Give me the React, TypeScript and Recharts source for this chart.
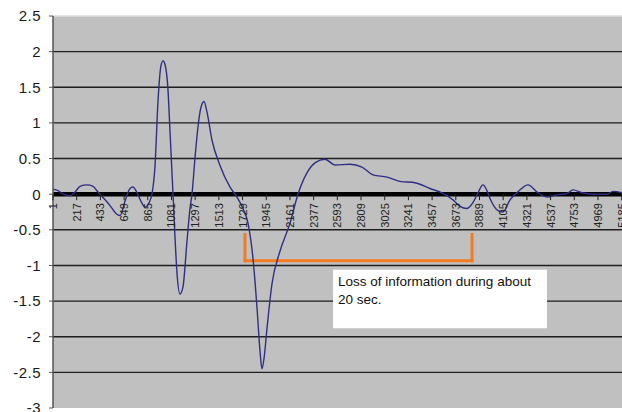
import { LineChart, Line, XAxis, YAxis, CartesianGrid, ReferenceLine, ReferenceDot, ReferenceArea } from 'recharts'

// sample index (x) and signal value (y)
const sampleIndex = [
  1, 47, 92, 156, 202, 247, 311, 366, 411, 466, 521, 575, 612, 657, 703, 730, 767, 803, 840, 876,
  903, 931, 958, 985, 1004, 1022, 1049, 1067, 1095, 1113, 1131, 1159, 1186, 1223, 1250, 1268, 1295,
  1323, 1350, 1378, 1405, 1450, 1524, 1615, 1678, 1733, 1779, 1824, 1861, 1888, 1906, 1925, 1952,
  1997, 2070, 2161, 2234, 2316, 2389, 2480, 2572, 2708, 2818, 2918, 3046, 3164, 3301, 3438, 3556,
  3647, 3711, 3775, 3829, 3875, 3921, 3957, 3985, 4058, 4103, 4167, 4258, 4331, 4413, 4504, 4595,
  4687, 4741, 4823, 4923, 5051, 5106, 5188,
]
const signal = [
  0.07, 0.05, 0.0, -0.02, 0.03, 0.11, 0.13, 0.11, 0.03, -0.06, -0.16, -0.27, -0.3, -0.1, 0.08, 0.1,
  0.02, -0.1, -0.18, -0.12, 0.0, 0.4, 1.3, 1.8, 1.87, 1.82, 1.47, 0.9, 0.0, -0.6, -1.1, -1.4, -1.3,
  -0.65, -0.2, 0.0, 0.5, 0.95, 1.22, 1.3, 1.15, 0.76, 0.4, 0.1, -0.04, -0.2, -0.41, -0.9, -1.6, -2.2,
  -2.45, -2.3, -1.88, -1.26, -0.8, -0.41, 0.0, 0.3, 0.44, 0.49, 0.41, 0.42, 0.38, 0.27, 0.24, 0.18,
  0.16, 0.08, 0.01, -0.08, -0.17, -0.2, -0.12, 0.02, 0.13, 0.05, -0.06, -0.23, -0.25, -0.08, 0.06,
  0.13, 0.03, -0.04, -0.01, 0.01, 0.06, 0.02, 0.0, 0.0, 0.04, 0.02,
]

const xTicks = [
  1, 217, 433, 649, 865, 1081, 1297, 1513, 1729, 1945, 2161, 2377, 2593, 2809, 3025, 3241, 3457,
  3673, 3889, 4105, 4321, 4537, 4753, 4969, 5185,
]
const yTicks = [-3, -2.5, -2, -1.5, -1, -0.5, 0, 0.5, 1, 1.5, 2, 2.5]
const gridValues = [-2.5, -2, -1.5, -1, -0.5, 0.5, 1, 1.5, 2]

// annotation: bracket ends (x), bracket top/bottom (y), note box
const bracketX = [1751, 3821]
const bracketY = [-0.566, -0.934]
const noteX = [2554, 4504]
const noteY = [-1.06, -1.88]
const noteLines = ['Loss of information during about', '20 sec.']

const data = sampleIndex.map((x, i) => ({ x, y: signal[i] }))

const orange = '#f47b20'

function XTickMark(props: any) {
  const { cx, cy, value } = props
  return (
    <g>
      <line x1={cx} x2={cx} y1={cy} y2={cy + 6} stroke="#222" strokeWidth={1} />
      <text
        x={cx}
        y={cy + 9}
        transform={`rotate(-90, ${cx}, ${cy + 9})`}
        textAnchor="end"
        dominantBaseline="central"
        fontSize={11}
        fill="#222"
      >
        {value}
      </text>
    </g>
  )
}

function NoteLabel(props: any) {
  const { viewBox } = props
  if (!viewBox) return null
  return (
    <text x={viewBox.x + 5} y={viewBox.y + 16} fontSize={13.5} fill="#111">
      {noteLines.map((t, i) => (
        <tspan key={i} x={viewBox.x + 5} dy={i === 0 ? 0 : 18}>
          {t}
        </tspan>
      ))}
    </text>
  )
}

export default function App() {
  return (
    <div
      style={{
        position: 'fixed',
        left: 0,
        top: 0,
        width: 622,
        height: 412,
        overflow: 'hidden',
        background: '#fff',
        fontFamily: '"Liberation Sans", Arial, sans-serif',
      }}
    >
      <LineChart width={622} height={412} data={data} margin={{ top: 16, right: 0, bottom: 4, left: 0 }}>
        <CartesianGrid
          vertical={false}
          horizontalValues={gridValues}
          stroke="#1e1e1e"
          strokeWidth={1.4}
          fill="#c0c0c0"
          fillOpacity={1}
        />
        <XAxis
          dataKey="x"
          type="number"
          domain={[1, 5188]}
          ticks={xTicks}
          height={0}
          axisLine={false}
          tickLine={false}
          tick={false}
          allowDataOverflow
        />
        <YAxis
          type="number"
          domain={[-3, 2.5]}
          ticks={yTicks}
          interval={0}
          width={53}
          axisLine={{ stroke: '#555', strokeWidth: 1.5 }}
          tickLine={{ stroke: '#555' }}
          tickSize={4}
          tickMargin={8}
          tick={{ fill: '#1a1a1a', fontSize: 15, letterSpacing: 0.5 }}
          allowDataOverflow
        />
        <ReferenceLine y={2.5} stroke="#dcdcdc" strokeWidth={1.5} />
        <ReferenceLine y={0} stroke="#000" strokeWidth={4.5} />
        {xTicks.map((t) => (
          <ReferenceDot
            key={t}
            x={t}
            y={0}
            r={0}
            ifOverflow="visible"
            shape={(p: any) => <XTickMark {...p} value={t} />}
          />
        ))}
        <ReferenceLine
          segment={[{ x: bracketX[0], y: bracketY[0] }, { x: bracketX[0], y: bracketY[1] }]}
          stroke={orange}
          strokeWidth={3}
          strokeLinecap="square"
        />
        <ReferenceLine
          segment={[{ x: bracketX[0], y: bracketY[1] }, { x: bracketX[1], y: bracketY[1] }]}
          stroke={orange}
          strokeWidth={3}
          strokeLinecap="square"
        />
        <ReferenceLine
          segment={[{ x: bracketX[1], y: bracketY[1] }, { x: bracketX[1], y: bracketY[0] }]}
          stroke={orange}
          strokeWidth={3}
          strokeLinecap="square"
        />
        <ReferenceArea
          x1={noteX[0]}
          x2={noteX[1]}
          y1={noteY[0]}
          y2={noteY[1]}
          fill="#fff"
          fillOpacity={1}
          stroke="none"
          label={<NoteLabel />}
        />
        <Line
          type="monotone"
          dataKey="y"
          stroke="#2e2e86"
          strokeWidth={1.4}
          dot={false}
          isAnimationActive={false}
        />
      </LineChart>
    </div>
  )
}
